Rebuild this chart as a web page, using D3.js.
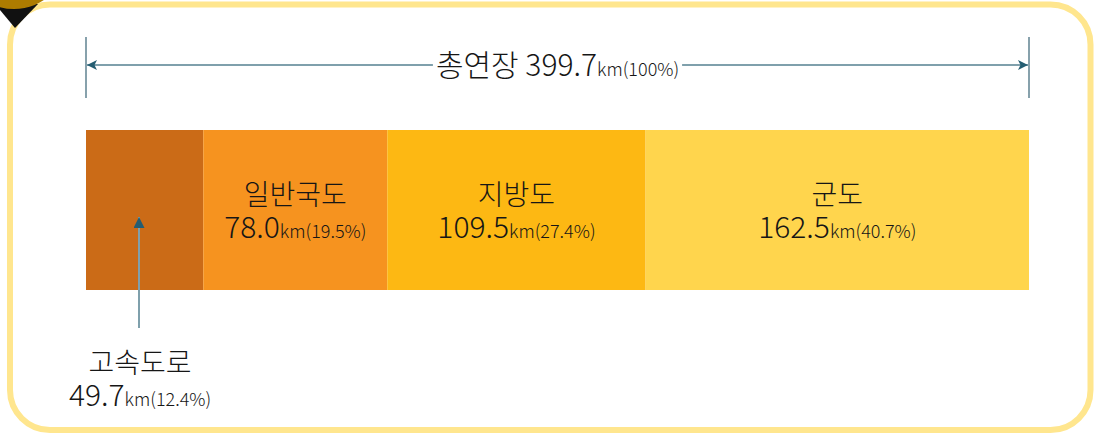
<!DOCTYPE html>
<html>
<head>
<meta charset="utf-8">
<script src="https://cdn.jsdelivr.net/npm/d3@7"></script>
<style>
  body { margin: 0; background: #fff; }
  svg { display: block; }
  text { font-family: "Noto Sans CJK KR", "Noto Sans", sans-serif; fill: #161616; }
</style>
</head>
<body>
<svg id="chart" width="1098" height="433"></svg>
<script>
var names = ["고속도로", "일반국도", "지방도", "군도"];
var lengths = [49.7, 78.0, 109.5, 162.5];
var shares = ["12.4%", "19.5%", "27.4%", "40.7%"];
var colors = ["#CB6B17", "#F6931F", "#FDB813", "#FFD54D"];
var total = 399.7, totalShare = "100%";

var barTop = 130, barH = 160;
var svg = d3.select("#chart");

// frame
svg.append("rect")
  .attr("x", 10).attr("y", 4.5)
  .attr("width", 1080.5).attr("height", 425.5)
  .attr("rx", 40).attr("ry", 40)
  .attr("fill", "#fff")
  .attr("stroke", "#FFE68E")
  .attr("stroke-width", 6);

// corner badge
svg.append("path").attr("d", "M-5,4 L38,4 L15,28 Z").attr("fill", "#111");
svg.append("circle").attr("cx", 14).attr("cy", -45).attr("r", 54).attr("fill", "#AE7C00");

var cum = d3.cumsum(lengths);
var starts = lengths.map((d, i) => cum[i] - d);

var x = d3.scaleLinear().domain([0, total]).range([86, 1029]);

var defs = svg.append("defs");
defs.append("marker")
  .attr("id", "ah")
  .attr("viewBox", "0 0 10 10")
  .attr("refX", 10).attr("refY", 5)
  .attr("markerWidth", 14).attr("markerHeight", 10)
  .attr("markerUnits", "userSpaceOnUse")
  .attr("orient", "auto-start-reverse")
  .append("path").attr("d", "M0,0 L10,5 L0,10 L2.5,5 Z").attr("fill", "#245D72");

// total dimension line
var gTop = svg.append("g");
gTop.selectAll("line.tick")
  .data([0, total])
  .join("line")
  .attr("x1", d => x(d)).attr("x2", d => x(d))
  .attr("y1", 37).attr("y2", 98)
  .attr("stroke", "#5F8290").attr("stroke-width", 1.5);
gTop.append("line")
  .attr("x1", x(0) + 1).attr("x2", x(total) - 1)
  .attr("y1", 65).attr("y2", 65)
  .attr("stroke", "#7FA0AC").attr("stroke-width", 2)
  .attr("marker-start", "url(#ah)")
  .attr("marker-end", "url(#ah)");

var title = gTop.append("text")
  .attr("x", x(total / 2)).attr("y", 76)
  .attr("text-anchor", "middle");
title.append("tspan").attr("font-size", 30).attr("font-weight", 300)
  .text("총연장 " + total);
title.append("tspan").attr("font-size", 18).attr("font-weight", 300).text("km(" + totalShare + ")");
var bb = title.node().getBBox();
gTop.insert("rect", "text")
  .attr("x", bb.x - 3).attr("y", 55).attr("width", bb.width + 6).attr("height", 20)
  .attr("fill", "#fff");

// bar segments
svg.append("g").selectAll("rect")
  .data(lengths)
  .join("rect")
  .attr("x", (d, i) => x(starts[i]))
  .attr("y", barTop)
  .attr("width", (d, i) => x(cum[i]) - x(starts[i]))
  .attr("height", barH)
  .attr("fill", (d, i) => colors[i]);

// name + value label
function label(g, cx, yName, yVal, i) {
  g.append("text").attr("x", cx).attr("y", yName).attr("text-anchor", "middle")
    .attr("font-size", 28).attr("font-weight", 300).text(names[i]);
  var t = g.append("text").attr("x", cx).attr("y", yVal).attr("text-anchor", "middle");
  t.append("tspan").attr("font-size", 30).attr("font-weight", 300)
    .text(lengths[i].toFixed(1));
  t.append("tspan").attr("font-size", 18).attr("font-weight", 300).text("km(" + shares[i] + ")");
}

var gLab = svg.append("g");
lengths.forEach((d, i) => {
  if (i === 0) return; // first one is called out below the bar
  var cx = (x(starts[i]) + x(cum[i])) / 2;
  label(gLab, cx, 205, 238, i);
});

// callout for first segment
var cx0 = x(starts[0]) + 53;
defs.append("marker")
  .attr("id", "ah2")
  .attr("viewBox", "0 0 10 10")
  .attr("refX", 10).attr("refY", 5)
  .attr("markerWidth", 16).attr("markerHeight", 11)
  .attr("markerUnits", "userSpaceOnUse")
  .attr("orient", "auto")
  .append("path").attr("d", "M0,0 L10,5 L0,10 Z").attr("fill", "#245D72");
svg.append("line")
  .attr("x1", cx0).attr("x2", cx0)
  .attr("y1", 328).attr("y2", 217)
  .attr("stroke", "#7FA0AC").attr("stroke-width", 2)
  .attr("marker-end", "url(#ah2)");
label(gLab, cx0 + 1, 373, 406, 0);
</script>
</body>
</html>
